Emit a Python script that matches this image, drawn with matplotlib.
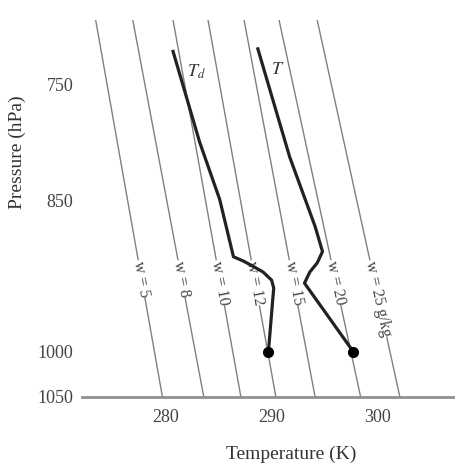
import numpy as np
import matplotlib
matplotlib.use("Agg")
import matplotlib.pyplot as plt
from matplotlib.ticker import NullLocator

plt.rcParams['font.family'] = ['Liberation Serif', 'DejaVu Serif']
plt.rcParams['mathtext.fontset'] = 'stix'

# mixing ratio lines (g/kg), temperature read at top (700 hPa) and bottom (1050 hPa)
w_vals = [5, 8, 10, 12, 15, 20, 25]
w_p_ends = [700, 1050]
w_T_top = [273.4, 276.9, 280.7, 284.0, 287.4, 290.7, 294.3]
w_T_bot = [279.7, 283.6, 287.1, 290.4, 294.1, 298.4, 302.1]

# dewpoint profile
Td_p = [724, 798, 849, 903, 907, 912, 918, 926, 934, 946, 1000]
Td_T = [280.7, 283.2, 285.1, 286.4, 287.3, 288.2, 289.2, 290.0, 290.2, 290.1, 289.7]

# temperature profile
T_p = [722, 811, 874, 898, 909, 918, 929, 1000]
T_T = [288.7, 291.7, 294.1, 294.8, 294.3, 293.6, 293.1, 297.7]

fig = plt.figure(figsize=(4.55, 4.67), dpi=100)
ax = fig.add_axes([0.18, 0.15, 0.82, 0.807])

ax.set_yscale('log')
ax.set_ylim(1050, 700)
ax.set_xlim(272.1, 307.3)

line_col = '#808080'
for w, t0, t1 in zip(w_vals, w_T_top, w_T_bot):
    ax.plot([t0, t1], w_p_ends, color=line_col, lw=1.0, zorder=1)

# labels along the lines
p_lab = 907
for w, t0, t1 in zip(w_vals, w_T_top, w_T_bot):
    lp = np.log(w_p_ends)
    x_lab = np.interp(np.log(p_lab), lp, [t0, t1])
    a = ax.transData.transform((t0, w_p_ends[0]))
    b = ax.transData.transform((t1, w_p_ends[1]))
    ang = np.degrees(np.arctan2(b[1] - a[1], b[0] - a[0]))
    txt = f"w = {w}" if w != 25 else "w = 25 g/kg"
    ax.text(x_lab, p_lab, txt, rotation=ang, rotation_mode='anchor',
            ha='left', va='center', fontsize=11.5, color='#444444',
            bbox=dict(facecolor='white', edgecolor='none', pad=0.5), zorder=2)

ax.plot(Td_T, Td_p, color='#222222', lw=2.3, zorder=3)
ax.plot(T_T, T_p, color='#222222', lw=2.3, zorder=3)
ax.plot([Td_T[-1], T_T[-1]], [Td_p[-1], T_p[-1]], 'o', color='black', ms=7, zorder=4)

ax.text(282.9, 740, r'$T_d$', fontsize=13, color='#333333', ha='center', va='center')
ax.text(290.6, 738, r'$T$', fontsize=13, color='#333333', ha='center', va='center')

ax.set_yticks([750, 850, 1000, 1050])
ax.set_yticklabels(['750', '850', '1000', '1050'])
ax.yaxis.set_minor_locator(NullLocator())
ax.set_xticks([280, 290, 300])
ax.tick_params(axis='both', length=0, labelsize=13, labelcolor='#444444')
ax.tick_params(axis='x', pad=9)
ax.tick_params(axis='y', pad=6)

for s in ['top', 'right', 'left']:
    ax.spines[s].set_visible(False)
ax.spines['bottom'].set_color('#909090')
ax.spines['bottom'].set_linewidth(2)

ax.set_xlabel('Temperature (K)', fontsize=14, color='#333333')
ax.set_ylabel('Pressure (hPa)', fontsize=14, color='#333333')
ax.xaxis.set_label_coords(0.56, -0.128)
ax.yaxis.set_label_coords(-0.15, 0.65)

fig.savefig('out.png', dpi=100)
